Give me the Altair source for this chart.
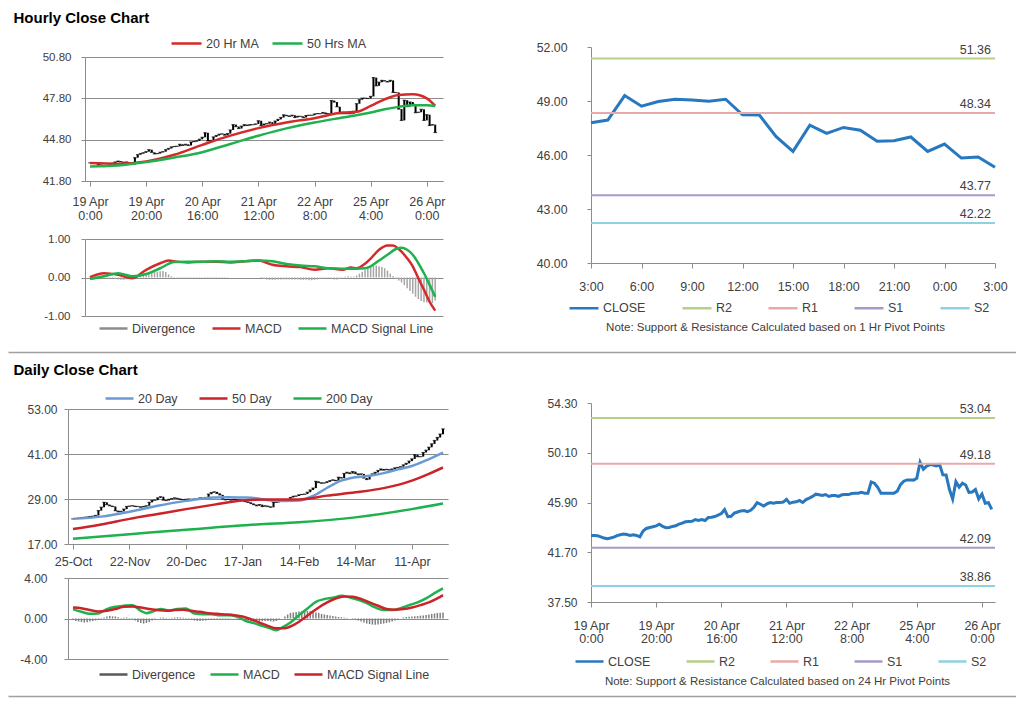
import json
import altair as alt
import pandas as pd

FONT = "Liberation Sans"
TXT = "#404040"
GRID = "#8c8c8c"
W, H = 1008, 690          # whole drawing (page minus the 8px margin)

# ---------------- hourly data : 19 Apr 0:00 ... 26 Apr 3:00 (one value per trading hour)
hourly_close = [
    43.12, 43.12, 43.10, 43.00, 42.90, 42.85, 42.90, 42.98, 43.10, 43.18,
    43.24, 43.20, 43.12, 43.18, 43.12, 43.00, 43.49, 43.71, 43.79, 43.85,
    43.93, 44.07, 43.88, 43.77, 43.79, 43.88, 43.93, 44.07, 44.16, 44.27,
    44.30, 44.32, 44.46, 44.38, 44.46, 44.38, 44.63, 44.66, 44.71, 44.83,
    44.97, 45.30, 44.71, 44.74, 45.00, 45.10, 45.19, 45.22, 45.13, 45.24,
    45.50, 45.89, 45.75, 45.61, 45.78, 45.89, 45.83, 45.89, 45.89, 45.94,
    46.17, 45.83, 45.93, 45.96, 46.07, 45.90, 46.15, 46.27, 46.41, 46.60,
    46.55, 46.49, 46.57, 46.41, 46.49, 46.49, 46.41, 46.55, 46.57, 46.57,
    46.66, 46.69, 46.69, 46.77, 46.69, 46.69, 47.64, 47.53, 47.19, 46.69,
    46.69, 46.69, 46.69, 46.69, 46.85, 47.41, 47.70, 47.81, 47.81,
    47.79, 47.94, 49.30, 48.71, 48.97, 49.10, 49.06, 48.99, 49.10, 48.23,
    48.22, 47.02, 46.20, 47.66, 47.20, 47.53, 47.38, 46.76, 46.79, 47.00,
    46.20, 46.61, 45.83, 45.89, 45.32,
]
hour_tick_pos = [0, 20, 40, 60, 80, 100, 120]
hour_tick_labels = [["19 Apr", "0:00"], ["19 Apr", "20:00"], ["20 Apr", "16:00"],
                    ["21 Apr", "12:00"], ["22 Apr", "8:00"], ["25 Apr", "4:00"],
                    ["26 Apr", "0:00"]]

ma20h_idx = [0, 10, 20, 30, 40, 50, 60, 70, 80, 90, 95, 100, 105, 110, 115, 120, 123]
ma20h_val = [43.10, 43.05, 43.22, 43.70, 44.42, 45.09, 45.64, 46.05, 46.36, 46.77,
             46.82, 47.25, 47.73, 48.04, 48.09, 47.80, 47.25]
ma50h_idx = [0, 10, 20, 30, 40, 50, 60, 70, 80, 90, 100, 105, 110, 115, 120, 123]
ma50h_val = [42.86, 42.93, 43.17, 43.50, 43.89, 44.49, 45.09, 45.62, 46.05, 46.41,
             46.77, 47.01, 47.18, 47.30, 47.30, 47.25]

macdh_idx = [0, 5, 10, 15, 20, 25, 28, 30, 35, 40, 45, 50, 55, 60, 65, 70, 75, 80, 85,
             90, 93, 95, 98, 100, 103, 106, 108, 110, 113, 115, 117, 119, 121, 123]
macdh_val = [0.01, 0.11, 0.07, -0.02, 0.20, 0.37, 0.44, 0.42, 0.39, 0.41, 0.41, 0.39,
             0.42, 0.44, 0.33, 0.29, 0.27, 0.20, 0.24, 0.20, 0.26, 0.24, 0.36, 0.49,
             0.72, 0.83, 0.83, 0.74, 0.50, 0.29, -0.02, -0.32, -0.63, -0.86]
sigh_idx = [0, 5, 10, 15, 20, 25, 30, 35, 40, 45, 50, 55, 60, 65, 70, 75, 80, 85, 90,
            95, 98, 100, 103, 106, 109, 111, 113, 115, 117, 119, 121, 123]
sigh_val = [-0.04, 0.03, 0.11, 0.03, 0.09, 0.24, 0.40, 0.41, 0.41, 0.42, 0.41, 0.42,
            0.44, 0.42, 0.35, 0.31, 0.29, 0.24, 0.23, 0.23, 0.24, 0.29, 0.44, 0.59,
            0.74, 0.77, 0.72, 0.59, 0.37, 0.11, -0.19, -0.50]
divh_val = [
    0.02, 0.03, 0.04, 0.05, 0.05, 0.04, 0.03, 0.01, -0.02, -0.04,
    -0.05, -0.06, -0.06, -0.05, -0.04, -0.02, 0.01, 0.03, 0.05, 0.07,
    0.09, 0.11, 0.12, 0.14, 0.15, 0.16, 0.17, 0.14, 0.08, 0.03,
    -0.01, -0.02, -0.02, -0.02, -0.02, -0.02, -0.02, -0.02, -0.02, -0.01,
    -0.01, -0.02, -0.02, -0.02, -0.02, -0.01, -0.02, -0.02, -0.01, -0.01,
    0.0, 0.0, 0.0, 0.0, 0.0, 0.0, 0.0, 0.0, 0.0, 0.0,
    0.0, -0.02, -0.04, -0.05, -0.06, -0.06, -0.06, -0.05, -0.05, -0.05,
    -0.05, -0.05, -0.05, -0.05, -0.05, -0.06, -0.06, -0.06, -0.07, -0.07,
    -0.06, -0.05, -0.04, -0.03, -0.02, -0.02, -0.03, -0.05, -0.05, -0.03,
    0.01, 0.02, 0.03, 0.02, 0.02, 0.05, 0.10, 0.15, 0.20, 0.24,
    0.28, 0.30, 0.31, 0.29, 0.27, 0.24, 0.18, 0.10, 0.04, -0.03,
    -0.08, -0.13, -0.20, -0.28, -0.35, -0.42, -0.50, -0.56, -0.61, -0.64,
    -0.65, -0.66, -0.67, -0.60,
]

# ---------------- pivot charts
pivot1_tick_pos = [0, 3, 6, 9, 12, 15, 18, 21, 24]
pivot1_tick_labels = ["3:00", "6:00", "9:00", "12:00", "15:00", "18:00", "21:00", "0:00", "3:00"]
pivot1_start = 99          # 25 Apr 3:00 within hourly_close
level_names = ["R2", "R1", "S1", "S2"]
pivot1_levels = [51.36, 48.34, 43.77, 42.22]
pivot24_levels = [53.04, 49.18, 42.09, 38.86]

# ---------------- daily data : 25-Oct ... 26-Apr
daily_close = [
    23.7, 23.8, 23.9, 24.0, 24.1, 24.2, 24.3, 24.4, 24.6, 25.9,
    26.8, 28.1, 27.5, 27.2, 27.0, 25.9, 25.6, 25.7, 26.3, 27.0,
    27.1, 27.2, 27.0, 27.0, 26.8, 27.0, 27.2, 28.1, 28.6, 28.7,
    29.3, 29.6, 28.7, 28.6, 28.9, 29.1, 29.3, 29.1, 28.9, 28.8,
    28.9, 29.0, 28.9, 29.0, 29.1, 29.3, 29.2, 29.4, 30.3, 30.7,
    30.9, 30.5, 30.1, 29.0, 28.8, 28.9, 28.7, 28.9, 28.8, 28.7,
    28.6, 28.3, 28.1, 27.8, 27.5, 27.2, 27.5, 27.0, 27.2, 27.0,
    26.8, 28.1, 28.1, 28.6, 28.6, 28.6, 28.7, 29.4, 29.7, 29.8,
    30.1, 30.2, 30.3, 30.8, 31.4, 31.9, 33.7, 33.4, 33.2, 33.3,
    33.6, 33.9, 34.1, 33.9, 34.8, 34.6, 35.8, 36.1, 35.8, 36.3,
    35.8, 35.5, 35.7, 34.6, 34.2, 35.2, 35.7, 36.1, 36.6, 37.0,
    36.7, 36.9, 36.7, 37.0, 37.3, 37.4, 37.6, 38.1, 38.5, 39.1,
    39.7, 40.8, 40.3, 40.3, 41.4, 42.0, 42.8, 43.7, 44.6, 45.4,
    46.3, 47.7,
]
day_tick_pos = [0, 20, 40, 60, 80, 100, 120]
day_tick_labels = ["25-Oct", "22-Nov", "20-Dec", "17-Jan", "14-Feb", "14-Mar", "11-Apr"]

ma20d_idx = [0, 10, 20, 30, 40, 50, 55, 60, 65, 70, 75, 80, 85, 90, 95, 100, 105, 110, 115, 120, 125, 131]
ma20d_val = [23.7, 24.3, 25.6, 27.2, 28.5, 29.4, 29.5, 29.4, 29.2, 28.6, 28.5, 28.6,
             29.8, 32.0, 33.9, 34.8, 35.2, 35.9, 36.9, 37.8, 39.3, 41.4]
ma50d_idx = [0, 10, 20, 30, 40, 50, 60, 70, 80, 90, 100, 110, 120, 126, 131]
ma50d_val = [21.0, 22.2, 23.7, 25.0, 26.3, 27.5, 28.6, 28.9, 28.9, 29.9, 30.8, 31.9, 33.9, 35.7, 37.4]
ma200d_idx = [0, 20, 40, 65, 80, 100, 120, 131]
ma200d_val = [18.4, 19.6, 20.8, 22.2, 22.8, 24.1, 26.3, 27.8]

macdd_idx = [0, 3, 6, 9, 12, 15, 18, 21, 24, 26, 28, 31, 34, 37, 40, 43, 46, 49, 52, 55,
             58, 61, 64, 67, 70, 72, 74, 77, 80, 83, 86, 89, 92, 95, 98, 101, 104, 107,
             110, 113, 116, 119, 122, 125, 128, 131]
macdd_val = [0.93, 0.66, 0.46, 0.50, 0.93, 1.16, 1.26, 1.32, 0.76, 0.53, 0.66, 0.93,
             0.79, 0.93, 0.99, 0.50, 0.43, 0.43, 0.33, 0.33, 0.20, -0.23, -0.46, -0.73,
             -0.99, -1.16, -0.89, -0.40, 0.33, 0.99, 1.65, 1.92, 2.05, 2.25, 2.08, 1.85,
             1.52, 1.09, 0.83, 0.83, 1.02, 1.32, 1.59, 1.98, 2.51, 2.98]
sigd_idx = [0, 3, 6, 9, 12, 15, 18, 21, 24, 27, 30, 33, 36, 39, 42, 45, 48, 51, 54, 57,
            60, 63, 66, 69, 72, 75, 78, 81, 84, 87, 90, 93, 96, 99, 102, 105, 108, 111,
            114, 117, 120, 123, 126, 129, 131]
sigd_val = [1.09, 1.02, 0.83, 0.69, 0.76, 0.93, 1.16, 1.19, 1.09, 0.93, 0.83, 0.76,
            0.83, 0.86, 0.76, 0.66, 0.53, 0.46, 0.40, 0.33, 0.20, -0.07, -0.40, -0.73,
            -0.96, -0.96, -0.66, -0.13, 0.50, 1.09, 1.59, 1.98, 2.18, 2.15, 1.92, 1.59,
            1.26, 0.93, 0.86, 0.93, 1.09, 1.32, 1.59, 1.98, 2.31]
divd_val = [
    -0.15, -0.25, -0.30, -0.35, -0.40, -0.38, -0.30, -0.25, -0.20, -0.15,
    -0.05, 0.10, 0.20, 0.25, 0.22, 0.20, 0.12, 0.05, 0.08, 0.10,
    0.05, -0.05, -0.20, -0.35, -0.45, -0.50, -0.45, -0.35, -0.20, -0.10,
    0.00, 0.08, 0.10, 0.05, 0.02, 0.06, 0.10, 0.12, 0.10, 0.08,
    0.05, -0.05, -0.15, -0.20, -0.25, -0.25, -0.22, -0.20, -0.15, -0.12,
    -0.10, -0.10, -0.08, -0.06, -0.05, -0.05, -0.03, -0.02, -0.05, -0.10,
    -0.15, -0.20, -0.25, -0.30, -0.30, -0.32, -0.30, -0.28, -0.25, -0.25,
    -0.28, -0.30, -0.25, -0.15, 0.00, 0.20, 0.40, 0.55, 0.60, 0.65,
    0.70, 0.72, 0.75, 0.75, 0.72, 0.68, 0.60, 0.55, 0.45, 0.40,
    0.35, 0.30, 0.25, 0.20, 0.15, 0.12, 0.08, 0.05, 0.00, -0.05,
    -0.10, -0.20, -0.30, -0.40, -0.50, -0.55, -0.60, -0.62, -0.60, -0.55,
    -0.50, -0.45, -0.38, -0.30, -0.20, -0.10, 0.00, 0.10, 0.15, 0.18,
    0.20, 0.22, 0.25, 0.28, 0.30, 0.35, 0.40, 0.45, 0.50, 0.55,
    0.58, 0.60,
]

# ---------------- panel frames in drawing pixels: (left, right, top, bottom)
FR_A = (77, 435, 49, 173)
FR_B = (77, 435, 231, 308)
FR_C = (583, 987, 39, 255)
FR_D = (60, 440, 401, 536)
FR_E = (60, 440, 570, 651)
FR_F = (583, 987, 395, 594)


# =====================================================================
def expr(labels, step):
    return json.dumps(labels) + "[round(datum.value / %d)]" % step


Y_LABEL = "replace(format(datum.value, '.2f'), '\u2212', '-')"


def xaxis(fr, values, labels, step, pad, lh=14, size=12.5, **kw):
    if "title" not in kw:
        kw["title"] = None
    return alt.Axis(orient="bottom", offset=fr[3] - H, values=values,
                    labelExpr=expr(labels, step), labelFlush=False, labelOverlap=False,
                    grid=False, tickSize=5, labelPadding=pad, labelFontSize=size,
                    labelLineHeight=lh, domainColor=GRID, tickColor=GRID, **kw)


def yaxis(fr, values, pad, grid, size=12):
    return alt.Axis(orient="left", offset=-fr[0], values=values, labelExpr=Y_LABEL,
                    grid=grid, gridColor=GRID, title=None, tickSize=4, labelPadding=pad,
                    labelFontSize=size, domainColor=GRID, tickColor=GRID,
                    labelOverlap=False)


def xscale(fr, dom):
    return alt.Scale(domain=dom, range=[fr[0], fr[1]], nice=False, zero=False)


def yscale(fr, dom):
    return alt.Scale(domain=dom, range=[fr[3], fr[2]], nice=False, zero=False)


def legend(x, yc, size, pad):
    return alt.Legend(title=None, orient="none", legendX=x - 3, legendY=yc - 15,
                      direction="horizontal", symbolType="stroke", symbolSize=size,
                      symbolStrokeWidth=2.5, labelFontSize=12.5, labelOffset=3,
                      columnPadding=pad, padding=0, labelLimit=300)


def series(pairs):
    frames = [pd.DataFrame({"i": idx, "v": val, "s": name}) for name, idx, val in pairs]
    return pd.concat(frames, ignore_index=True)


def candles(close):
    df = pd.DataFrame({"i": list(range(len(close))), "close": close})
    df["open"] = df["close"].shift(1).fillna(df["close"])
    df["lo"] = df[["open", "close"]].min(axis=1)
    df["hi"] = df[["open", "close"]].max(axis=1)
    return df


def price_panel(fr, close, xdom, xax, ydom, yax, ma_df, ma_dom, ma_rng, leg):
    df = candles(close)
    xs, ys = xscale(fr, xdom), yscale(fr, ydom)
    body = alt.Chart(df).mark_bar(size=2, color="#000000").encode(
        x=alt.X("i:Q", scale=xs, axis=xax),
        y=alt.Y("lo:Q", scale=ys, axis=yax), y2="hi:Q")
    tick = alt.Chart(df).mark_tick(orient="horizontal", size=3.5, thickness=1.2,
                                   color="#000000").encode(
        x=alt.X("i:Q", scale=xs, axis=xax), y=alt.Y("close:Q", scale=ys, axis=yax))
    ma = alt.Chart(ma_df).mark_line(strokeWidth=2.5, interpolate="monotone").encode(
        x=alt.X("i:Q", scale=xs, axis=xax), y=alt.Y("v:Q", scale=ys, axis=yax),
        color=alt.Color("s:N", scale=alt.Scale(domain=ma_dom, range=ma_rng), legend=leg))
    return alt.layer(body, tick, ma)


def macd_panel(fr, div, xdom, ydom, yax, bar_color, lines_df, dom, rng, leg):
    df = pd.DataFrame({"i": list(range(len(div))), "d": div, "z": 0.0})
    xs, ys = xscale(fr, xdom), yscale(fr, ydom)
    bar = alt.Chart(df).mark_bar(size=1.5, color=bar_color).encode(
        x=alt.X("i:Q", scale=xs, axis=None),
        y=alt.Y("d:Q", scale=ys, axis=yax), y2="z:Q")
    lines = alt.Chart(lines_df).mark_line(strokeWidth=2.5, interpolate="monotone").encode(
        x=alt.X("i:Q", scale=xs, axis=None), y=alt.Y("v:Q", scale=ys, axis=yax),
        color=alt.Color("s:N", scale=alt.Scale(domain=dom, range=rng), legend=leg))
    return alt.layer(bar, lines)


piv_scale = alt.Scale(domain=["CLOSE"] + level_names,
                      range=["#2878C0", "#B7CF88", "#E8AAA8", "#A999C9", "#8FD0E3"])


def pivot_panel(fr, close_df, levels, xdom, xax, ydom, yax, leg):
    lv = pd.DataFrame({"s": level_names, "v": levels})
    xs, ys = xscale(fr, xdom), yscale(fr, ydom)
    line = alt.Chart(close_df).mark_line(strokeWidth=3).encode(
        x=alt.X("i:Q", scale=xs, axis=xax), y=alt.Y("v:Q", scale=ys, axis=yax),
        color=alt.Color("s:N", scale=piv_scale, legend=leg))
    rule = alt.Chart(lv).mark_rule(strokeWidth=2).encode(
        x=alt.datum(xdom[0]), x2=alt.datum(xdom[1]), y=alt.Y("v:Q", scale=ys, axis=yax),
        color=alt.Color("s:N", scale=piv_scale, legend=leg))
    text = alt.Chart(lv).mark_text(align="right", baseline="alphabetic", dx=-4, dy=-5,
                                   fontSize=12.5, font=FONT, color=TXT).encode(
        x=alt.datum(xdom[1]), y=alt.Y("v:Q", scale=ys, axis=yax),
        text=alt.Text("v:Q", format=".2f"))
    return alt.layer(line, rule, text)


blank = pd.DataFrame({"v": [0]})


def guide(y, domain, title=None, title_y=0):
    ax = alt.Axis(orient="top", offset=-y, domain=domain, domainColor="#a0a0a0",
                  domainWidth=1.5, ticks=False, labels=False, grid=False, title=title,
                  titleX=5, titleY=title_y, titleAlign="left", titleBaseline="alphabetic",
                  titleFont=FONT, titleFontSize=15, titleFontWeight="bold",
                  titleColor="#000000")
    return alt.Chart(blank).mark_text(text="").encode(
        x=alt.X("v:Q", scale=alt.Scale(domain=[0, 1], range=[0, W]), axis=ax),
        y=alt.value(0))


def note(text, cx, ty):
    return dict(title=text, titleX=cx - 8, titleY=ty, titleAlign="center",
                titleBaseline="alphabetic", titleFont=FONT, titleFontSize=11.5,
                titleFontWeight="normal", titleColor=TXT)


# ---------------- panels
A = price_panel(
    FR_A, hourly_close, [0, 124],
    xaxis(FR_A, hour_tick_pos, hour_tick_labels, 20, 9),
    [41.8, 50.8], yaxis(FR_A, [41.8, 44.8, 47.8, 50.8], 10, True, 11.5),
    series([("20 Hr MA", ma20h_idx, ma20h_val), ("50 Hrs MA", ma50h_idx, ma50h_val)]),
    ["20 Hr MA", "50 Hrs MA"], ["#D42A2A", "#1EB14E"], legend(173 - 8, 34, 900, 8))

B = macd_panel(
    FR_B, divh_val, [0, 124], [-1, 1], yaxis(FR_B, [-1, 0, 1], 11, True, 11.5), "#a6a6a6",
    series([("MACD", macdh_idx, macdh_val), ("MACD Signal Line", sigh_idx, sigh_val)]),
    ["Divergence", "MACD", "MACD Signal Line"], ["#8c8c8c", "#D42A2A", "#1EB14E"],
    legend(101 - 8, 320, 784, 11))

cdf = pd.DataFrame({"i": list(range(25)),
                    "v": hourly_close[pivot1_start:pivot1_start + 25], "s": "CLOSE"})
C = pivot_panel(
    FR_C, cdf, pivot1_levels, [0, 24],
    xaxis(FR_C, pivot1_tick_pos, pivot1_tick_labels, 3, 12,
          **note("Note: Support & Resistance Calculated based on 1 Hr Pivot Points", 775, 67)),
    [40, 52], yaxis(FR_C, [40, 43, 46, 49, 52], 20, False, 12.3),
    legend(571 - 8, 299, 841, 31))

fdf = pd.DataFrame({"i": list(range(len(hourly_close))), "v": hourly_close, "s": "CLOSE"})
F = pivot_panel(
    FR_F, fdf, pivot24_levels, [0, 124],
    xaxis(FR_F, hour_tick_pos, hour_tick_labels, 20, 12, 13.5,
          **note("Note: Support & Resistance Calculated based on 24 Hr Pivot Points", 777, 82)),
    [37.5, 54.3], yaxis(FR_F, [37.5, 41.7, 45.9, 50.1, 54.3], 10, False, 12),
    legend(577 - 8, 653, 784, 30))

D = price_panel(
    FR_D, daily_close, [0, 131],
    xaxis(FR_D, day_tick_pos, day_tick_labels, 20, 6),
    [17, 53], yaxis(FR_D, [17, 29, 41, 53], 7, True, 12),
    series([("20 Day", ma20d_idx, ma20d_val), ("50 Day", ma50d_idx, ma50d_val),
            ("200 Day", ma200d_idx, ma200d_val)]),
    ["20 Day", "50 Day", "200 Day"], ["#6A9AD4", "#CC2229", "#1EB14E"],
    legend(107 - 8, 390, 784, 16))

E = macd_panel(
    FR_E, divd_val, [0, 131], [-4, 4], yaxis(FR_E, [-4, 0, 4], 17, True, 12), "#7f7f7f",
    series([("MACD", macdd_idx, macdd_val), ("MACD Signal Line", sigd_idx, sigd_val)]),
    ["Divergence", "MACD", "MACD Signal Line"], ["#595959", "#1EB14E", "#CC2229"],
    legend(101 - 8, 666, 784, 9))

G1 = guide(0, False, "Hourly Close Chart", 14)
G2 = guide(344, True, "Daily Close Chart", 22)
G3 = guide(688, True)

chart = alt.layer(A, B, C, D, E, F, G1, G2, G3).resolve_scale(
    x="independent", y="independent", color="independent"
).resolve_legend(color="independent").properties(
    width=W, height=H, padding=0, autosize=alt.AutoSizeParams(type="none")
).configure_view(strokeWidth=0).configure_axis(
    labelFont=FONT, labelColor=TXT
).configure_legend(
    labelFont=FONT, labelColor=TXT
)

chart.save("out.html", embed_options={"renderer": "svg", "actions": False})
